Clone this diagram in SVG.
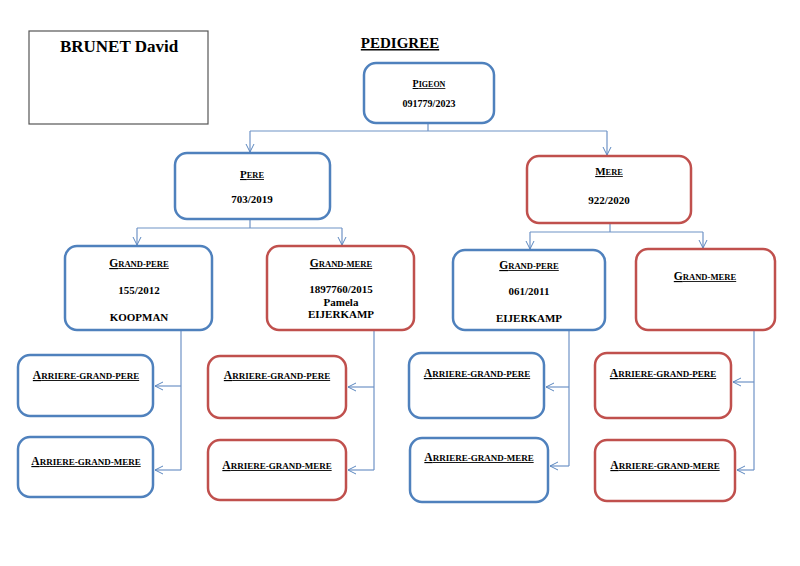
<svg xmlns="http://www.w3.org/2000/svg" width="800" height="566" viewBox="0 0 800 566" font-family="Liberation Serif, Times New Roman, DejaVu Serif, serif">
<defs>
<marker id="arr" markerWidth="10" markerHeight="10" refX="9" refY="5" orient="auto" markerUnits="userSpaceOnUse">
<path d="M1,1 L9,5 L1,9" fill="none" stroke="#5B87BF" stroke-width="1"/>
</marker>
</defs>
<style>
text{font-family:'Liberation Serif','Times New Roman','DejaVu Serif',serif;font-weight:bold;fill:#000;text-anchor:middle}
.b{fill:#fff;stroke:#4F81BD;stroke-width:2.5}
.r{fill:#fff;stroke:#C0504D;stroke-width:2.5}
.c{fill:none;stroke:#6F93C6;stroke-width:1.2}
.u{text-decoration:underline}
</style>
<rect width="800" height="566" fill="#fff"/>
<g id="owner">
<rect x="29" y="31" width="179" height="93" fill="#fff" stroke="#555" stroke-width="1.2"/>
<text x="119" y="52" font-size="17">BRUNET David</text>
</g>
<g id="title"><text x="400" y="48" font-size="15" class="u">PEDIGREE</text></g>
<g id="connectors">
<path class="c" d="M428,123 V131 M250,131 H607"/>
<path class="c" d="M250,131 V152" marker-end="url(#arr)"/>
<path class="c" d="M607,131 V155" marker-end="url(#arr)"/>
<path class="c" d="M250,219 V228 M137,228 H342"/>
<path class="c" d="M137,228 V245" marker-end="url(#arr)"/>
<path class="c" d="M342,228 V245" marker-end="url(#arr)"/>
<path class="c" d="M610,223 V232 M530,232 H703"/>
<path class="c" d="M530,232 V249" marker-end="url(#arr)"/>
<path class="c" d="M703,232 V248" marker-end="url(#arr)"/>
<path class="c" d="M181,330 V470"/>
<path class="c" d="M181,386 H155" marker-end="url(#arr)"/>
<path class="c" d="M181,470 H155" marker-end="url(#arr)"/>
<path class="c" d="M374,330 V470"/>
<path class="c" d="M374,387 H348" marker-end="url(#arr)"/>
<path class="c" d="M374,470 H348" marker-end="url(#arr)"/>
<path class="c" d="M569,330 V466"/>
<path class="c" d="M569,387 H546" marker-end="url(#arr)"/>
<path class="c" d="M569,466 H550" marker-end="url(#arr)"/>
<path class="c" d="M754,330 V470"/>
<path class="c" d="M754,382 H733" marker-end="url(#arr)"/>
<path class="c" d="M754,470 H737" marker-end="url(#arr)"/>
</g>
<g id="pigeon">
<rect class="b" x="364" y="63" width="130" height="60" rx="12"/>
<text x="429" y="87" class="u"><tspan font-size="10">P</tspan><tspan font-size="8">IGEON</tspan></text>
<text x="429" y="107" font-size="10">091779/2023</text>
</g>
<g id="pere">
<rect class="b" x="175" y="153" width="155" height="66" rx="12"/>
<text x="252" y="178" class="u"><tspan font-size="11">P</tspan><tspan font-size="8.4">ERE</tspan></text>
<text x="252" y="203" font-size="11">703/2019</text>
</g>
<g id="mere">
<rect class="r" x="527" y="156" width="164" height="67" rx="12"/>
<text x="609" y="175" class="u"><tspan font-size="11">M</tspan><tspan font-size="8.4">ERE</tspan></text>
<text x="609" y="204" font-size="11">922/2020</text>
</g>
<g id="gp1">
<rect class="b" x="65" y="246" width="147" height="84" rx="12"/>
<text x="139" y="267" class="u"><tspan font-size="11.5">G</tspan><tspan font-size="8.6">RAND-PERE</tspan></text>
<text x="139" y="294" font-size="11">155/2012</text>
<text x="139" y="321" font-size="11">KOOPMAN</text>
</g>
<g id="gm1">
<rect class="r" x="267" y="246" width="147" height="84" rx="12"/>
<text x="341" y="267" class="u"><tspan font-size="11.5">G</tspan><tspan font-size="8.6">RAND-MERE</tspan></text>
<text x="341" y="293" font-size="11">1897760/2015</text>
<text x="341" y="306" font-size="11">Pamela</text>
<text x="341" y="318" font-size="11">EIJERKAMP</text>
</g>
<g id="gp2">
<rect class="b" x="453" y="250" width="152" height="80" rx="12"/>
<text x="529" y="269" class="u"><tspan font-size="11.5">G</tspan><tspan font-size="8.6">RAND-PERE</tspan></text>
<text x="529" y="295" font-size="11">061/2011</text>
<text x="529" y="322" font-size="11">EIJERKAMP</text>
</g>
<g id="gm2">
<rect class="r" x="636" y="249" width="139" height="81" rx="12"/>
<text x="705" y="280" class="u"><tspan font-size="11.5">G</tspan><tspan font-size="8.6">RAND-MERE</tspan></text>
</g>
<g id="agp1">
<rect class="b" x="18" y="355" width="135" height="61" rx="12"/>
<text x="86" y="379" class="u"><tspan font-size="11.5">A</tspan><tspan font-size="9">RRIERE-GRAND-PERE</tspan></text>
</g>
<g id="agm1">
<rect class="b" x="18" y="437" width="135" height="60" rx="12"/>
<text x="86" y="465" class="u"><tspan font-size="11.5">A</tspan><tspan font-size="9">RRIERE-GRAND-MERE</tspan></text>
</g>
<g id="agp2">
<rect class="r" x="208" y="356" width="138" height="62" rx="12"/>
<text x="277" y="379" class="u"><tspan font-size="11.5">A</tspan><tspan font-size="9">RRIERE-GRAND-PERE</tspan></text>
</g>
<g id="agm2">
<rect class="r" x="208" y="440" width="138" height="60" rx="12"/>
<text x="277" y="469" class="u"><tspan font-size="11.5">A</tspan><tspan font-size="9">RRIERE-GRAND-MERE</tspan></text>
</g>
<g id="agp3">
<rect class="b" x="409" y="353" width="135" height="65" rx="12"/>
<text x="477" y="377" class="u"><tspan font-size="11.5">A</tspan><tspan font-size="9">RRIERE-GRAND-PERE</tspan></text>
</g>
<g id="agm3">
<rect class="b" x="410" y="438" width="138" height="64" rx="12"/>
<text x="479" y="461" class="u"><tspan font-size="11.5">A</tspan><tspan font-size="9">RRIERE-GRAND-MERE</tspan></text>
</g>
<g id="agp4">
<rect class="r" x="595" y="353" width="136" height="65" rx="12"/>
<text x="663" y="377" class="u"><tspan font-size="11.5">A</tspan><tspan font-size="9">RRIERE-GRAND-PERE</tspan></text>
</g>
<g id="agm4">
<rect class="r" x="595" y="440" width="140" height="61" rx="12"/>
<text x="665" y="469" class="u"><tspan font-size="11.5">A</tspan><tspan font-size="9">RRIERE-GRAND-MERE</tspan></text>
</g>
</svg>
